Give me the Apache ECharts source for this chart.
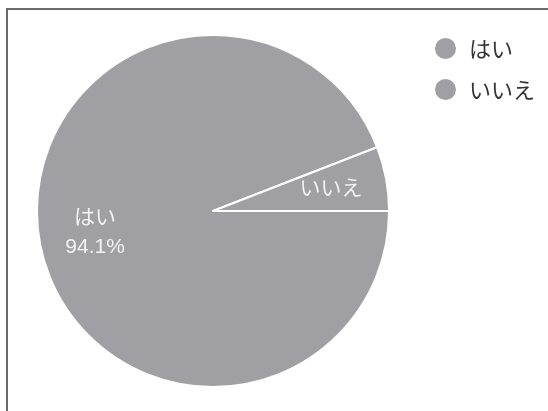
<!DOCTYPE html>
<html><head><meta charset="utf-8">
<script src="https://cdn.jsdelivr.net/npm/echarts@6/dist/echarts.min.js"></script>
<style>html,body{margin:0;padding:0;background:#fff}#c{width:548px;height:411px}</style>
</head><body><div id="c"></div>
<script>
const categories = ['はい', 'いいえ'];
const values = [94.1, 5.9];
const showPercent = [true, false];

const FONT = '"Liberation Sans", "Noto Sans CJK JP", sans-serif';
const GRAY = '#a09fa3';
const data = categories.map((n, i) => ({ name: n, value: values[i] }));
const labelData = categories.map((n, i) => ({
  name: n, value: values[i],
  label: { formatter: showPercent[i] ? '{b}\n{d}%' : '{b}' }
}));

const chart = echarts.init(document.getElementById('c'));
chart.setOption({
  animation: false,
  graphic: [{
    type: 'rect', shape: { x: 7, y: 9, width: 700, height: 600 },
    style: { fill: 'none', stroke: '#6a6a6a', lineWidth: 2 }, silent: true, z: 100
  }],
  legend: {
    data: categories, orient: 'vertical', left: 428, top: 31,
    icon: 'circle', itemWidth: 23, itemHeight: 23, itemGap: 16,
    textStyle: { fontFamily: '"Noto Sans CJK JP", sans-serif', fontSize: 22, color: '#333333', padding: [0, 0, 0, 7] },
    itemStyle: { color: GRAY }
  },
  series: [{
    type: 'pie', center: [213, 211], radius: [0, 176],
    startAngle: 0, clockwise: true,
    itemStyle: { color: GRAY, borderColor: '#ffffff', borderWidth: 2 },
    label: { show: false }, labelLine: { show: false },
    emphasis: { disabled: true },
    data: data
  }, {
    type: 'pie', center: [213, 211], radius: [58, 176],
    startAngle: 0, clockwise: true, silent: true, legendHoverLink: false,
    itemStyle: { color: 'rgba(0,0,0,0)' },
    label: { show: true, position: 'inside', color: '#f2f2f2', fontFamily: FONT, fontSize: 21, lineHeight: 29 },
    labelLine: { show: false },
    emphasis: { disabled: true },
    data: labelData
  }]
});
</script></body></html>
